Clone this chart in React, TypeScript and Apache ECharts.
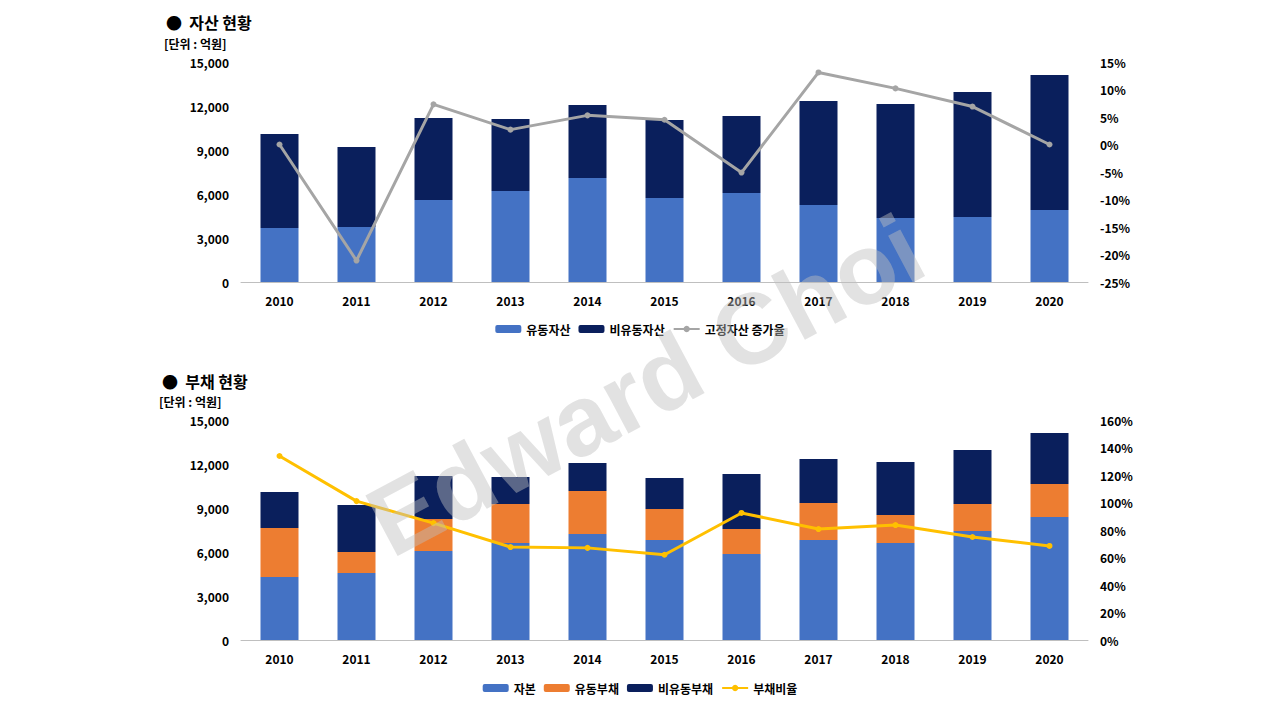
import * as echarts from "echarts";
import { useEffect, useRef } from "react";

const years = ["2010", "2011", "2012", "2013", "2014", "2015", "2016", "2017", "2018", "2019", "2020"];

const currentAssets = [3680, 3750, 5590, 6200, 7090, 5730, 6070, 5250, 4360, 4430, 4910];
const nonCurrentAssets = [6410, 5450, 5590, 4910, 4980, 5310, 5250, 7090, 7770, 8520, 9200];
const fixedAssetGrowth = [0, -21.1, 7.3, 2.7, 5.3, 4.5, -5.1, 13.1, 10.2, 6.9, 0];

const equity = [4290, 4570, 6070, 6610, 7230, 6820, 5860, 6820, 6610, 7430, 8380];
const currentLiab = [3340, 1430, 2180, 2660, 2930, 2110, 1710, 2520, 1910, 1840, 2250];
const nonCurrentLiab = [2460, 3200, 2930, 1840, 1910, 2110, 3750, 3000, 3610, 3680, 3480];
const debtRatio = [133.8, 101, 85, 67.6, 67, 62, 92.4, 80.7, 83.6, 74.9, 68.4];

const font = "Malgun Gothic, 'Noto Sans CJK KR', sans-serif";
const label = { color: "#000", fontWeight: "bold" as const, fontSize: 12, fontFamily: font };

export default function App() {
  const ref = useRef<HTMLDivElement | null>(null);

  useEffect(() => {
    if (!ref.current) {
      return;
    }
    const chart = echarts.init(ref.current, undefined, { renderer: "svg" });
    const xAxis = (gridIndex: number) => ({
      type: "category",
      gridIndex,
      data: years,
      axisTick: { show: false },
      axisLine: { lineStyle: { color: "#bfbfbf" } },
      axisLabel: { ...label, margin: 12 }
    });
    const leftAxis = (gridIndex: number) => ({
      type: "value",
      gridIndex,
      min: 0,
      max: 15000,
      interval: 3000,
      splitLine: { show: false },
      axisLabel: { ...label, formatter: (v: number) => v.toLocaleString("en-US"), margin: 12 }
    });
    chart.setOption({
      animation: false,
      textStyle: { fontFamily: font },
      grid: [
        { left: 241, right: 192, top: 62, height: 220 },
        { left: 241, right: 192, top: 420, height: 220 }
      ],
      legend: [
        {
          top: 318,
          left: "center",
          itemWidth: 26,
          itemHeight: 8,
          textStyle: label,
          data: ["유동자산", "비유동자산", "고정자산 증가율"]
        },
        {
          top: 677,
          left: "center",
          itemWidth: 26,
          itemHeight: 8,
          textStyle: label,
          data: ["자본", "유동부채", "비유동부채", "부채비율"]
        }
      ],
      xAxis: [xAxis(0), xAxis(1)],
      yAxis: [
        leftAxis(0),
        {
          type: "value",
          gridIndex: 0,
          min: -25,
          max: 15,
          interval: 5,
          splitLine: { show: false },
          axisLabel: { ...label, formatter: "{value}%", margin: 12 }
        },
        leftAxis(1),
        {
          type: "value",
          gridIndex: 1,
          min: 0,
          max: 160,
          interval: 20,
          splitLine: { show: false },
          axisLabel: { ...label, formatter: "{value}%", margin: 12 }
        }
      ],
      series: [
        { name: "유동자산", type: "bar", stack: "a", barWidth: 38, data: currentAssets, itemStyle: { color: "#4472c4" } },
        { name: "비유동자산", type: "bar", stack: "a", data: nonCurrentAssets, itemStyle: { color: "#0a1f5c" } },
        {
          name: "고정자산 증가율",
          type: "line",
          yAxisIndex: 1,
          data: fixedAssetGrowth,
          symbol: "circle",
          symbolSize: 6,
          lineStyle: { width: 3, color: "#a5a5a5" },
          itemStyle: { color: "#a5a5a5" }
        },
        { name: "자본", type: "bar", xAxisIndex: 1, yAxisIndex: 2, stack: "b", barWidth: 38, data: equity, itemStyle: { color: "#4472c4" } },
        { name: "유동부채", type: "bar", xAxisIndex: 1, yAxisIndex: 2, stack: "b", data: currentLiab, itemStyle: { color: "#ed7d31" } },
        { name: "비유동부채", type: "bar", xAxisIndex: 1, yAxisIndex: 2, stack: "b", data: nonCurrentLiab, itemStyle: { color: "#0a1f5c" } },
        {
          name: "부채비율",
          type: "line",
          xAxisIndex: 1,
          yAxisIndex: 3,
          data: debtRatio,
          symbol: "circle",
          symbolSize: 6,
          lineStyle: { width: 3, color: "#ffc000" },
          itemStyle: { color: "#ffc000" }
        }
      ],
      graphic: [
        { type: "text", left: 166, top: 14, style: { text: "●  자산 현황", fontSize: 16, fontWeight: "bold", fill: "#000", fontFamily: font } },
        { type: "text", left: 164, top: 37, style: { text: "[단위 : 억원]", fontSize: 12, fontWeight: "bold", fill: "#000", fontFamily: font } },
        { type: "text", left: 162, top: 373, style: { text: "●  부채 현황", fontSize: 16, fontWeight: "bold", fill: "#000", fontFamily: font } },
        { type: "text", left: 159, top: 395, style: { text: "[단위 : 억원]", fontSize: 12, fontWeight: "bold", fill: "#000", fontFamily: font } },
        {
          type: "text",
          x: 645,
          y: 385,
          rotation: (28 * Math.PI) / 180,
          z: 100,
          style: {
            text: "Edward Choi",
            fontSize: 100,
            fontWeight: "bold",
            fontFamily: "Arial, 'Liberation Sans', sans-serif",
            fill: "rgba(190,190,190,0.45)",
            align: "center",
            verticalAlign: "middle"
          }
        }
      ]
    });
    return () => chart.dispose();
  }, []);

  return <div ref={ref} style={{ position: "absolute", left: 0, top: 0, width: 1280, height: 720, background: "#fff" }} />;
}
